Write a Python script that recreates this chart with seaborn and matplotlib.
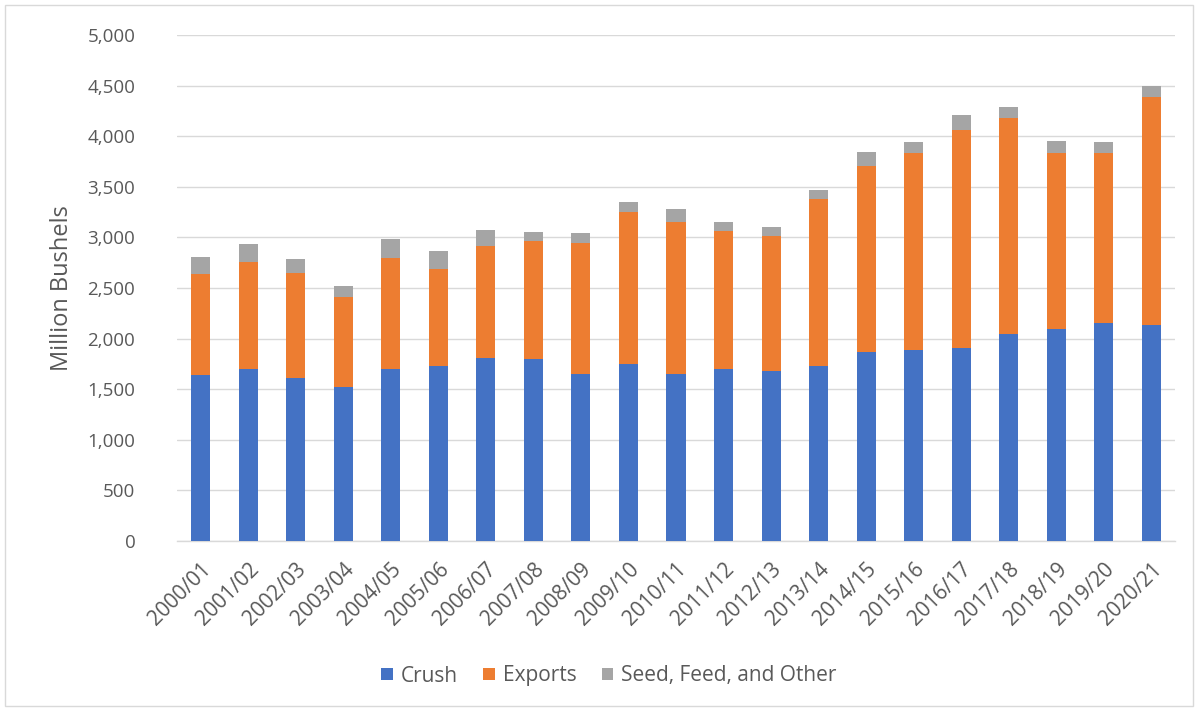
import matplotlib
matplotlib.use("Agg")
import matplotlib.pyplot as plt
from matplotlib.patches import Rectangle, Patch
from matplotlib.ticker import FuncFormatter
import numpy as np
import pandas as pd
import seaborn as sns

# Soybean use by marketing year (million bushels)
years = ["2000/01", "2001/02", "2002/03", "2003/04", "2004/05", "2005/06", "2006/07",
         "2007/08", "2008/09", "2009/10", "2010/11", "2011/12", "2012/13", "2013/14",
         "2014/15", "2015/16", "2016/17", "2017/18", "2018/19", "2019/20", "2020/21"]
crush = [1640, 1700, 1608, 1525, 1700, 1732, 1811, 1795, 1650, 1746, 1650, 1697,
         1683, 1730, 1871, 1887, 1904, 2045, 2092, 2157, 2134]
exports = [995, 1060, 1044, 883, 1100, 953, 1104, 1171, 1292, 1508, 1505, 1366,
           1334, 1651, 1835, 1944, 2157, 2138, 1739, 1674, 2250]
seed_feed_other = [168, 172, 135, 112, 181, 184, 158, 91, 98, 99, 123, 86,
                   89, 84, 141, 115, 148, 109, 125, 115, 115]

series_names = ["Crush", "Exports", "Seed, Feed, and Other"]
colors = ["#4472C4", "#ED7D31", "#A5A5A5"]

df = pd.DataFrame({"year": years, "crush": crush, "exports": exports,
                   "other": seed_feed_other})
df["crush_exports"] = df["crush"] + df["exports"]
df["total"] = df["crush_exports"] + df["other"]

sns.set_theme(style="white")
plt.rcParams["font.family"] = ["Open Sans", "DejaVu Sans"]
text_color = "#595959"
grid_color = "#D9D9D9"

fig = plt.figure(figsize=(11.98, 7.11), dpi=100)
ax = fig.add_axes([177 / 1198, 1 - 541 / 711, (1175 - 177) / 1198, (541 - 35) / 711])

# Stack by drawing cumulative heights from the top layer down
bar_w = 0.4
for col, c in zip(["total", "crush_exports", "crush"], colors[::-1]):
    sns.barplot(data=df, x="year", y=col, color=c, width=bar_w, saturation=1,
                linewidth=0, edgecolor="none", ax=ax, zorder=3)

ax.set_ylim(0, 5000)
ax.set_xlim(-0.5, len(years) - 0.5)
ax.set_yticks(np.arange(0, 5001, 500))
ax.yaxis.set_major_formatter(FuncFormatter(lambda v, p: f"{int(v):,}"))
ax.grid(axis="y", color=grid_color, linewidth=1, zorder=0)
ax.set_axisbelow(True)

for side in ["top", "right", "left"]:
    ax.spines[side].set_visible(False)
ax.spines["bottom"].set_color(grid_color)
ax.spines["bottom"].set_linewidth(1)

ax.tick_params(axis="both", length=0, colors=text_color)
ax.tick_params(axis="y", pad=30, labelsize=13.5)
ax.set_xticks(range(len(years)))
ax.set_xticklabels(years, rotation=45, ha="right", rotation_mode="anchor")
ax.tick_params(axis="x", pad=13, labelsize=15)

ax.set_xlabel("")
ax.set_ylabel("Million Bushels", color=text_color, fontsize=17, labelpad=10)

handles = [Patch(facecolor=c, edgecolor="none") for c in colors]
fig.legend(handles, series_names, loc="center", bbox_to_anchor=(609 / 1198, 1 - 676 / 711),
           ncol=3, frameon=False, fontsize=15, labelcolor=text_color,
           handlelength=0.55, handleheight=0.55, handletextpad=0.4, columnspacing=1.2)

# Chart area border
fig.patches.append(Rectangle((5 / 1198, 5 / 711), 1 - 10 / 1198, 1 - 10 / 711,
                             transform=fig.transFigure, fill=False,
                             edgecolor=grid_color, linewidth=1))

fig.savefig("out.png", dpi=100, facecolor="white")
